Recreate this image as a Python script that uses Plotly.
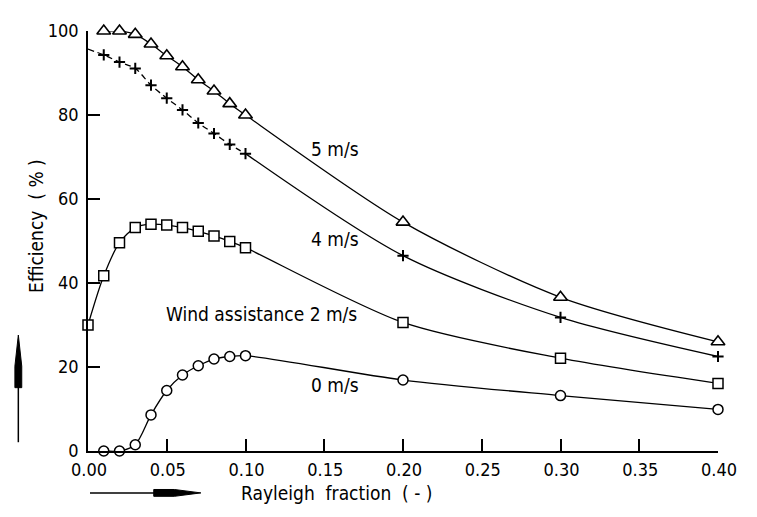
import plotly.graph_objects as go

# ---------------- data ----------------
x_fine = [0.01, 0.02, 0.03, 0.04, 0.05, 0.06, 0.07, 0.08, 0.09, 0.10]
x_coarse = [0.20, 0.30, 0.40]

x5 = x_fine + x_coarse
y5 = [100.0, 100.0, 99.2, 96.9, 94.1, 91.5, 88.4, 85.7, 82.7, 80.0, 54.5, 36.6, 26.0]

x4 = [0.00] + x_fine + x_coarse
y4 = [95.7, 94.3, 92.6, 91.1, 87.1, 84.0, 81.2, 78.1, 75.6, 73.0, 70.8, 46.5, 31.8, 22.5]

x2 = [0.00] + x_fine + x_coarse
y2 = [30.0, 41.7, 49.6, 53.2, 54.0, 53.8, 53.2, 52.3, 51.2, 49.9, 48.4, 30.6, 22.1, 16.1]

x0 = x_fine + x_coarse
y0 = [0.0, 0.0, 1.5, 8.6, 14.4, 18.1, 20.3, 21.9, 22.5, 22.7, 16.9, 13.2, 9.9]

x_ticks = [0.00, 0.05, 0.10, 0.15, 0.20, 0.25, 0.30, 0.35, 0.40]
y_ticks = [0, 20, 40, 60, 80, 100]

labels = ["5 m/s", "4 m/s", "Wind assistance 2 m/s", "0 m/s"]
label_x = [0.157, 0.157, 0.110, 0.157]
label_y = [71.8, 50.5, 32.7, 15.7]

# ---------------- figure ----------------
FONT = "DejaVu Sans Condensed, DejaVu Sans, sans-serif"
OFF = 8                      # page body margin (all sides)
W, H = 757 - 2 * OFF, 517 - 2 * OFF
# plot area in screen pixels
SX0, SX1, SY0, SY1 = 88, 730, 20, 451
L, R, T, B = SX0 - OFF, W - (SX1 - OFF), SY0 - OFF, H - (SY1 - OFF)
PW, PH = W - L - R, H - T - B

LINE = dict(color="black", width=1.3)
SPL = 0.8

fig = go.Figure()

# 5 m/s
fig.add_trace(go.Scatter(
    x=x5, y=y5, mode="lines+markers", line=dict(**LINE, shape="spline", smoothing=SPL),
    marker=dict(symbol="triangle-up", size=12, color="white", line=dict(width=1.6, color="black")),
    cliponaxis=False, showlegend=False))

# 4 m/s : dashed for fine part, solid afterwards
n_dash = 1 + len(x_fine)
fig.add_trace(go.Scatter(
    x=x4[:n_dash], y=y4[:n_dash], mode="lines",
    line=dict(color="black", width=1.3, dash="6px,4px", shape="spline", smoothing=SPL),
    cliponaxis=False, showlegend=False))
fig.add_trace(go.Scatter(
    x=x4[n_dash - 1:], y=y4[n_dash - 1:], mode="lines",
    line=dict(**LINE, shape="spline", smoothing=SPL),
    cliponaxis=False, showlegend=False))
fig.add_trace(go.Scatter(
    x=x4[1:], y=y4[1:], mode="markers",
    marker=dict(symbol="cross-thin-open", size=8, color="black", line=dict(width=2.0, color="black")),
    cliponaxis=False, showlegend=False))

# 2 m/s
fig.add_trace(go.Scatter(
    x=x2, y=y2, mode="lines+markers", line=dict(**LINE, shape="spline", smoothing=SPL),
    marker=dict(symbol="square", size=10, color="white", line=dict(width=1.5, color="black")),
    cliponaxis=False, showlegend=False))

# 0 m/s
fig.add_trace(go.Scatter(
    x=x0, y=y0, mode="lines+markers", line=dict(**LINE, shape="spline", smoothing=SPL),
    marker=dict(symbol="circle", size=10, color="white", line=dict(width=1.5, color="black")),
    cliponaxis=False, showlegend=False))

for t, lx, ly in zip(labels, label_x, label_y):
    fig.add_annotation(x=lx, y=ly, text=t, showarrow=False, xanchor="center", yanchor="middle",
                       font=dict(family=FONT, size=19, color="black"))

# helpers: screen pixel -> paper coordinates
def px(xp):
    return (xp - OFF - L) / PW

def py(yp):
    return (H - B - (yp - OFF)) / PH

fig.add_annotation(xref="paper", yref="paper", x=px(341), y=py(494), text="Rayleigh  fraction  ( - )",
                   showarrow=False, xanchor="center", yanchor="middle",
                   font=dict(family=FONT, size=19, color="black"))
fig.add_annotation(xref="paper", yref="paper", x=px(35), y=py(220), text="Efficiency  ( % )",
                   textangle=-90, showarrow=False, xanchor="center", yanchor="middle",
                   font=dict(family=FONT, size=19, color="black"))

def path(points):
    return "M " + " L ".join(f"{px(a):.5f},{py(b):.5f}" for a, b in points) + " Z"

# x arrow
AY = 494
fig.add_shape(type="line", xref="paper", yref="paper", x0=px(90), x1=px(165), y0=py(AY), y1=py(AY),
              line=dict(color="black", width=1.5))
fig.add_shape(type="path", xref="paper", yref="paper",
              path=path([(155, AY - 3.5), (176, AY - 3.5), (203, AY), (176, AY + 3.5), (155, AY + 3.5)]),
              fillcolor="black", line=dict(color="black", width=1))
# y arrow
fig.add_shape(type="line", xref="paper", yref="paper", x0=px(17), x1=px(17), y0=py(442), y1=py(370),
              line=dict(color="black", width=1.5))
fig.add_shape(type="path", xref="paper", yref="paper",
              path=path([(17, 332), (20.5, 364), (20.5, 386), (13.5, 386), (13.5, 364)]),
              fillcolor="black", line=dict(color="black", width=1))

fig.update_xaxes(range=[0, 0.40], tickvals=x_ticks, tickformat=".2f",
                 ticks="inside", ticklen=12, tickwidth=1.5, tickcolor="black",
                 showline=True, linecolor="black", linewidth=1.6, showgrid=False, zeroline=False,
                 ticklabelshift=1, ticklabelstandoff=2, ticklabeloverflow="allow",
                 tickfont=dict(family=FONT, size=18, color="black"))
fig.update_yaxes(range=[0, 100], tickvals=y_ticks,
                 ticks="inside", ticklen=12, tickwidth=1.5, tickcolor="black",
                 showline=True, linecolor="black", linewidth=1.6, showgrid=False, zeroline=False,
                 ticklabelstandoff=4,
                 tickfont=dict(family=FONT, size=18, color="black"))

fig.update_layout(width=W, height=H, margin=dict(l=L, r=R, t=T, b=B),
                  paper_bgcolor="white", plot_bgcolor="white", showlegend=False)

fig.write_html("out.html")
